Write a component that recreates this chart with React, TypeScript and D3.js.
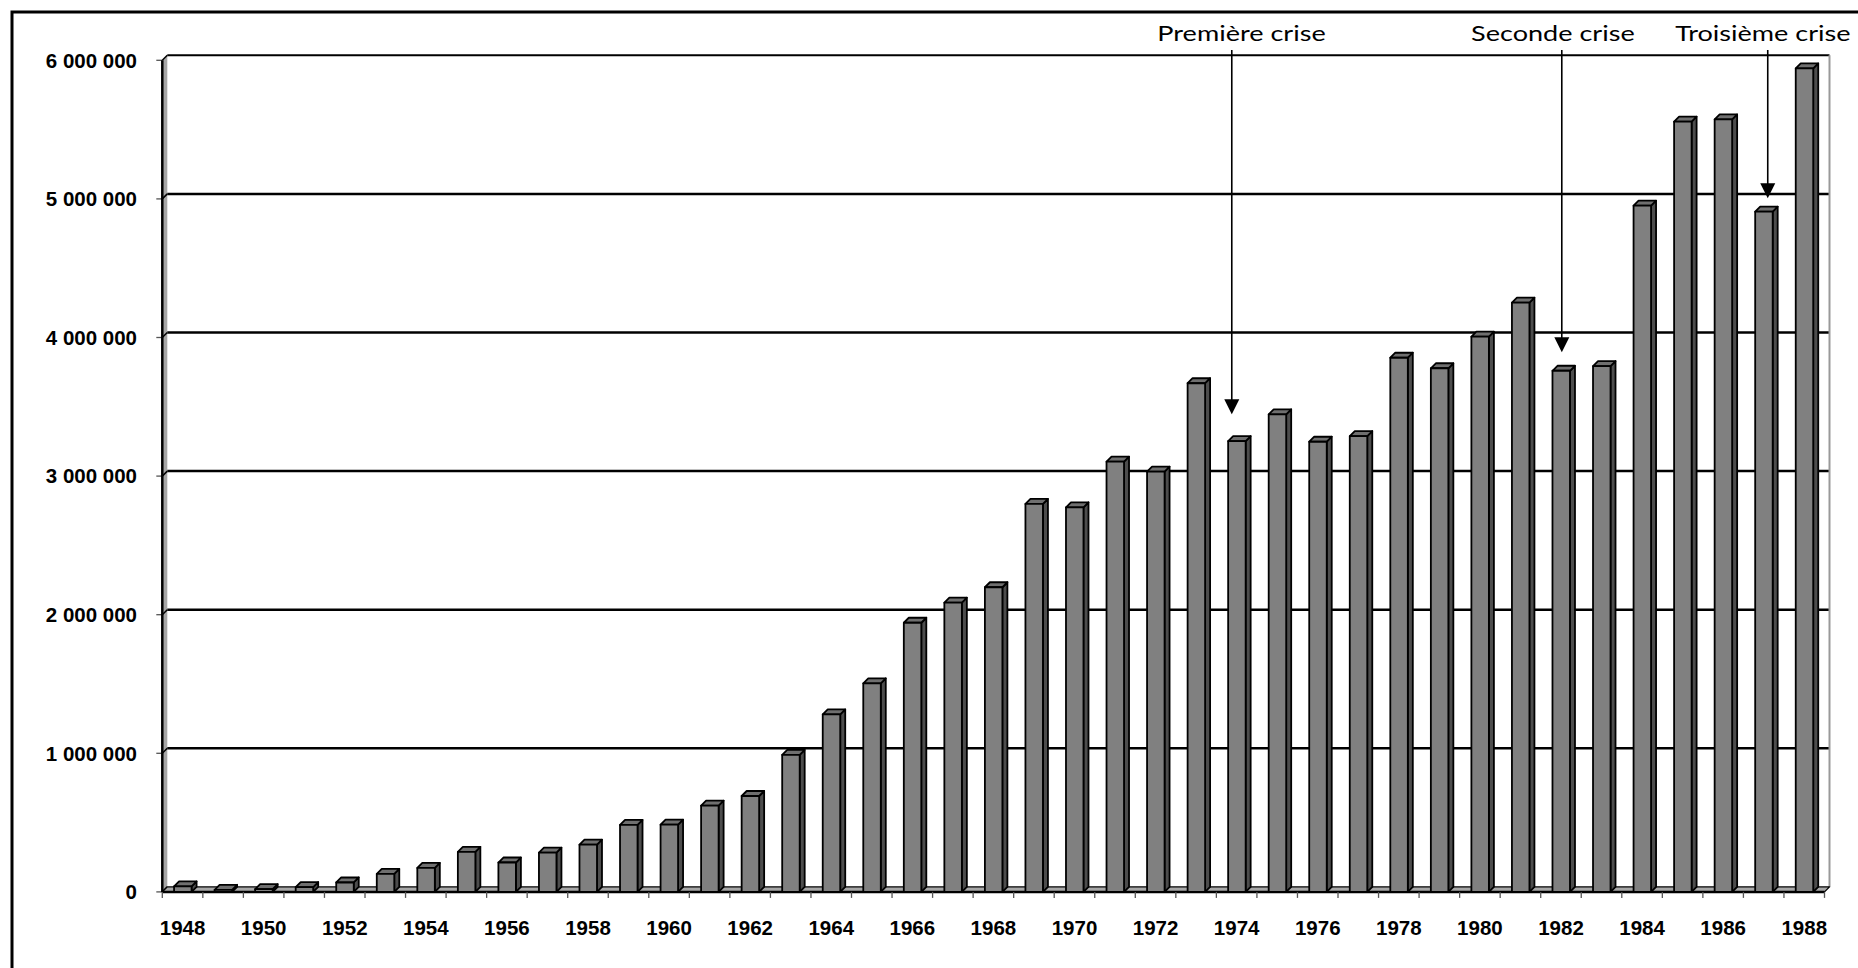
import React from "react";
import * as d3 from "d3";

const years: number[] = [
  1948, 1949, 1950, 1951, 1952, 1953, 1954, 1955, 1956, 1957,
  1958, 1959, 1960, 1961, 1962, 1963, 1964, 1965, 1966, 1967,
  1968, 1969, 1970, 1971, 1972, 1973, 1974, 1975, 1976, 1977,
  1978, 1979, 1980, 1981, 1982, 1983, 1984, 1985, 1986, 1987, 1988,
];

const values: number[] = [
  40000, 15000, 20000, 35000, 68000, 130000, 173000, 289000, 212000, 283000,
  341000, 483000, 485000, 622000, 692000, 989000, 1281000, 1505000, 1942000, 2087000,
  2198000, 2799000, 2775000, 3104000, 3032000, 3670000, 3253000, 3446000, 3248000, 3289000,
  3854000, 3778000, 4006000, 4251000, 3760000, 3794000, 4951000, 5557000, 5574000, 4908000, 5942000,
];

const yTickValues: number[] = [0, 1000000, 2000000, 3000000, 4000000, 5000000, 6000000];

const crisisLabels: string[] = ["Première crise", "Seconde crise", "Troisième crise"];
const crisisArrowYear: number[] = [1973.88, 1982.02, 1987.1];
const crisisLabelYear: number[] = [1974.12, 1981.8, 1986.98];
const crisisTipValue: number[] = [3446000, 3893000, 5004000];

const W = 1858;
const H = 968;
const X0 = 162.3;
const X1 = 1824.5;
const D = 5;
const ANNOT_STRETCH = 1.23;

export default function App() {
  const xBand = d3
    .scaleBand<number>()
    .domain(years)
    .range([X0, X1])
    .paddingInner(0)
    .paddingOuter(0);
  const bw = xBand.bandwidth();
  const yearLin = d3
    .scaleLinear()
    .domain([years[0] - 0.5, years[years.length - 1] + 0.5])
    .range([X0, X1]);
  const y = d3.scaleLinear().domain([0, 6000000]).range([891.9, 60.3]);
  const y0 = y(0);
  const yTop = y(6000000);

  const fmt = d3
    .formatLocale({ decimal: ",", thousands: " ", grouping: [3], currency: ["", ""] })
    .format(",");

  const fw = 17.5;

  return (
    <svg
      width={W}
      height={H}
      style={{ position: "absolute", left: 0, top: 0, background: "#fff" }}
    >
      <rect x={0} y={0} width={W} height={H} fill="#fff" />
      {/* outer frame (top and left visible) */}
      <path d={`M12,${H + 20} L12,12 L${W + 20},12`} fill="none" stroke="#000" strokeWidth={3} />

      {/* left side wall */}
      <polygon
        points={`${X0},${yTop} ${X0 + D},${yTop - D} ${X0 + D},${y0 - D} ${X0},${y0}`}
        fill="#a6a6a6"
      />
      {/* back wall gridlines */}
      {yTickValues.map((v) => (
        <g key={`g${v}`}>
          {v > 0 && (
            <line
              x1={X0 + D}
              x2={X1 + D}
              y1={y(v) - D}
              y2={y(v) - D}
              stroke="#000"
              strokeWidth={v === 6000000 ? 2 : 2.5}
            />
          )}
          <line x1={X0} x2={X0 + D} y1={y(v)} y2={y(v) - D} stroke="#000" strokeWidth={1.5} />
          <line x1={X0 - 6} x2={X0} y1={y(v)} y2={y(v)} stroke="#555" strokeWidth={1.3} />
          <text
            x={137}
            y={y(v)}
            dy="0.36em"
            textAnchor="end"
            fontFamily="'Liberation Sans', Arial, sans-serif"
            fontWeight="bold"
            fontSize={20.5}
            fill="#000"
          >
            {fmt(v)}
          </text>
        </g>
      ))}
      {/* right edge of back wall */}
      <line x1={X1 + D} x2={X1 + D} y1={yTop - D} y2={y0 - D} stroke="#999" strokeWidth={2} />
      {/* y axis line */}
      <line x1={X0} x2={X0} y1={yTop} y2={y0} stroke="#000" strokeWidth={2.5} />

      {/* floor */}
      <polygon
        points={`${X0},${y0} ${X1},${y0} ${X1 + D},${y0 - D} ${X0 + D},${y0 - D}`}
        fill="#a6a6a6"
        stroke="#000"
        strokeWidth={1.3}
        strokeLinejoin="round"
      />
      <line x1={X0} x2={X1} y1={y0} y2={y0} stroke="#000" strokeWidth={2.5} />

      {/* bars */}
      {years.map((yr, i) => {
        const c = (xBand(yr) as number) + bw / 2;
        const fx = c - 8.5;
        const yt = y(values[i]);
        const yb = y0;
        const fx2 = fx + fw;
        return (
          <g key={yr} stroke="#000" strokeWidth={1.8} strokeLinejoin="round">
            <polygon
              points={`${fx2},${yt} ${fx2 + D},${yt - D} ${fx2 + D},${yb - D} ${fx2},${yb}`}
              fill="#4d4d4d"
            />
            <polygon
              points={`${fx},${yt} ${fx + D},${yt - D} ${fx2 + D},${yt - D} ${fx2},${yt}`}
              fill="#6f6f6f"
            />
            <rect x={fx} y={yt} width={fw} height={yb - yt} fill="#808080" />
          </g>
        );
      })}

      {/* x ticks */}
      {d3.range(years.length + 1).map((k) => (
        <line
          key={`t${k}`}
          x1={X0 + k * bw}
          x2={X0 + k * bw}
          y1={y0}
          y2={y0 + 6}
          stroke="#555"
          strokeWidth={1.3}
        />
      ))}
      {/* x labels */}
      {years
        .filter((yr) => yr % 2 === 0)
        .map((yr) => (
          <text
            key={`l${yr}`}
            x={(xBand(yr) as number) + bw / 2}
            y={935}
            textAnchor="middle"
            fontFamily="'Liberation Sans', Arial, sans-serif"
            fontWeight="bold"
            fontSize={20.5}
            fill="#000"
          >
            {yr}
          </text>
        ))}

      {/* crisis annotations */}
      {crisisLabels.map((lab, i) => {
        const ax = yearLin(crisisArrowYear[i]);
        const tip = y(crisisTipValue[i]);
        const tx = yearLin(crisisLabelYear[i]);
        return (
          <g key={lab}>
            <line x1={ax} x2={ax} y1={50} y2={tip - 14} stroke="#000" strokeWidth={1.6} />
            <polygon
              points={`${ax - 7.5},${tip - 15} ${ax + 7.5},${tip - 15} ${ax},${tip}`}
              fill="#000"
            />
            <g transform={`translate(${tx},41) scale(${ANNOT_STRETCH},1)`}>
              <text
                x={0}
                y={0}
                textAnchor="middle"
                fontFamily="Lato, 'Open Sans', sans-serif"
                fontSize={22}
                fill="#000"
              >
                {lab}
              </text>
            </g>
          </g>
        );
      })}
    </svg>
  );
}
